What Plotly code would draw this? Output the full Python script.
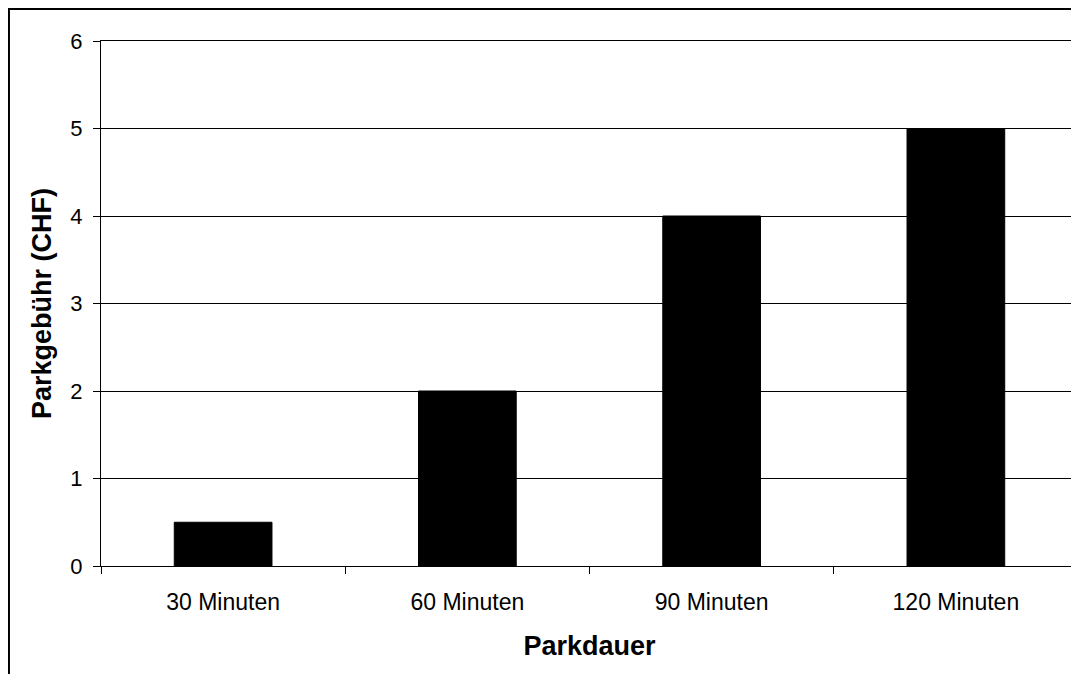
import plotly.graph_objects as go

# Parkdauer vs. Parkgebühr
dauer = ["30 Minuten", "60 Minuten", "90 Minuten", "120 Minuten"]
gebuehr = [0.5, 2, 4, 5]
y_ticks = [0, 1, 2, 3, 4, 5, 6]

FONT = "Liberation Sans, Arial, sans-serif"

fig = go.Figure(go.Bar(
    x=dauer,
    y=gebuehr,
    marker=dict(color="black", line=dict(color="black", width=1)),
    width=0.4,
))

fig.update_layout(
    width=1071,
    height=666,
    margin=dict(l=93, r=1, t=33, b=108),
    paper_bgcolor="white",
    plot_bgcolor="white",
    font=dict(family=FONT, size=23, color="black"),
    showlegend=False,
    # outer chart frame (left and top edges only are visible)
    shapes=[dict(
        type="path", xref="paper", yref="paper",
        path="M -0.0942,-0.3 L -0.0942,1.0610 L 1.2,1.0610",
        line=dict(color="black", width=2),
    )],
)

fig.update_xaxes(
    title=dict(text="<b>Parkdauer</b>", font=dict(size=27), standoff=22),
    tickson="boundaries",
    ticks="outside", ticklen=7, tickcolor="black",
    ticklabelstandoff=15,
    showline=True, linecolor="black", linewidth=1, mirror=True,
    showgrid=False,
    tickfont=dict(size=23),
)

fig.update_yaxes(
    title=dict(text="<b>Parkgebühr (CHF)</b>", font=dict(size=27), standoff=10),
    range=[0, 6],
    tickvals=y_ticks,
    ticks="outside", ticklen=7, tickcolor="black",
    ticklabelstandoff=6,
    showline=True, linecolor="black", linewidth=1, mirror=True,
    showgrid=True, gridcolor="black", gridwidth=1,
    zeroline=False,
    tickfont=dict(size=22),
)

fig.write_html("out.html")
